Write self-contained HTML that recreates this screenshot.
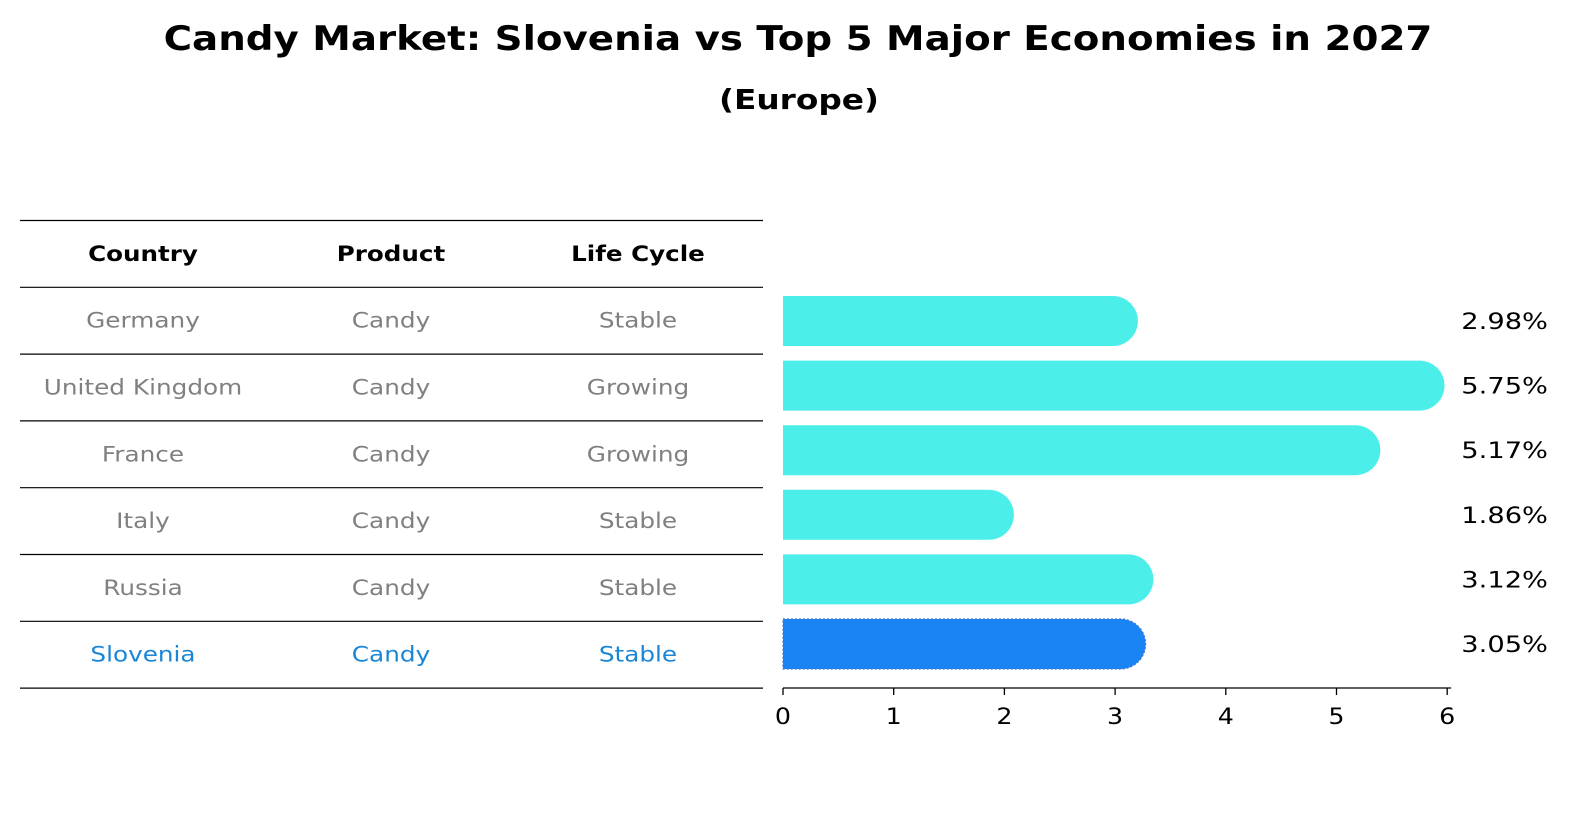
<!DOCTYPE html>
<html><head><meta charset="utf-8"><style>
html,body{margin:0;padding:0;background:#fff;}
svg text{font-family:"DejaVu Sans","Liberation Sans",sans-serif;}
</style></head><body>
<svg id="chart" width="1586" height="823" viewBox="0 0 1586 823" xmlns="http://www.w3.org/2000/svg">
<text id="title" x="798" y="50" text-anchor="middle" font-size="34" font-weight="bold">Candy Market: Slovenia vs Top 5 Major Economies in 2027</text>
<text id="subtitle" x="799" y="109" text-anchor="middle" font-size="28" font-weight="bold">(Europe)</text>
<g id="table"></g>
<g id="bars"></g>
</svg>
<script>
const countries = ["Germany","United Kingdom","France","Italy","Russia","Slovenia"];
const products = ["Candy","Candy","Candy","Candy","Candy","Candy"];
const lifeCycles = ["Stable","Growing","Growing","Stable","Stable","Stable"];
const values = [2.98,5.75,5.17,1.86,3.12,3.05];
const valueLabels = ["2.98%","5.75%","5.17%","1.86%","3.12%","3.05%"];
const tickValues = [0,1,2,3,4,5,6];
const headers = ["Country","Product","Life Cycle"];

const NS="http://www.w3.org/2000/svg";
function mk(tag,attrs,parent){const e=document.createElementNS(NS,tag);for(const k in attrs)e.setAttribute(k,attrs[k]);parent.appendChild(e);return e;}
function stretch(t,f){const w=t.getComputedTextLength();t.setAttribute('textLength',(w*f).toFixed(1));t.setAttribute('lengthAdjust','spacingAndGlyphs');}

stretch(document.getElementById('title'),1.14);
stretch(document.getElementById('subtitle'),1.17);

// table
const tbl=document.getElementById('table');
const colX=[143,391,638];
const lineY0=222.5, rowH=66.8;
for(let i=0;i<=countries.length+1;i++){
  const l=mk('line',{x1:20,x2:763,y1:lineY0+i*rowH-2,y2:lineY0+i*rowH-2,stroke:'#000','stroke-width':1.2},tbl);
  
  
}
headers.forEach((h,j)=>{
  const t=mk('text',{x:colX[j],y:lineY0+rowH/2+5,'text-anchor':'middle','font-size':21,'font-weight':'bold',fill:'#000'},tbl);
  t.textContent=h;
  
  
  stretch(t,1.17);
});
countries.forEach((c,i)=>{
  const y=lineY0+rowH*(i+1)+rowH/2+5;
  const col=i===countries.length-1?'#1a86d8':'#808080';
  [c,products[i],lifeCycles[i]].forEach((v,j)=>{
    const t=mk('text',{x:colX[j],y:y,'text-anchor':'middle','font-size':21.5,fill:col},tbl);
    t.textContent=v;
    
    
    stretch(t,1.15);
  });
});

// bars
const g=document.getElementById('bars');
const x0=783, pxPerUnit=110.7, axisY=688;
const xs=v=>x0+v*pxPerUnit;
const cy0=321, step=64.6, bh=50, r=25;
values.forEach((v,i)=>{
  const cy=cy0+i*step, xe=xs(v);
  const last=i===values.length-1;
  const d=`M${x0},${cy-bh/2} L${xe},${cy-bh/2} A${r},${r} 0 0 1 ${xe},${cy+bh/2} L${x0},${cy+bh/2} Z`;
  const p=mk('path',{d:d,fill:last?'#1a84f5':'#4ceeea'},g);
  if(last){p.setAttribute('stroke','#3a78d0');p.setAttribute('stroke-dasharray','2,2');p.setAttribute('stroke-width','1.2');}
  
  
  const t=mk('text',{x:1548,y:cy+8,'text-anchor':'end','font-size':22,fill:'#000'},g);
  t.textContent=valueLabels[i];
  
  
  stretch(t,1.24);
});
const ax=mk('line',{x1:x0,x2:xs(6)+4,y1:axisY,y2:axisY,stroke:'#000','stroke-width':1.3},g);


tickValues.forEach(v=>{
  const tl=mk('line',{x1:xs(v),x2:xs(v),y1:axisY,y2:axisY+7,stroke:'#000','stroke-width':1.3},g);
  
  
  const t=mk('text',{x:xs(v),y:axisY+36,'text-anchor':'middle','font-size':22,fill:'#000'},g);
  t.textContent=String(v);
  
  
  stretch(t,1.15);
});
</script>
</body></html>
